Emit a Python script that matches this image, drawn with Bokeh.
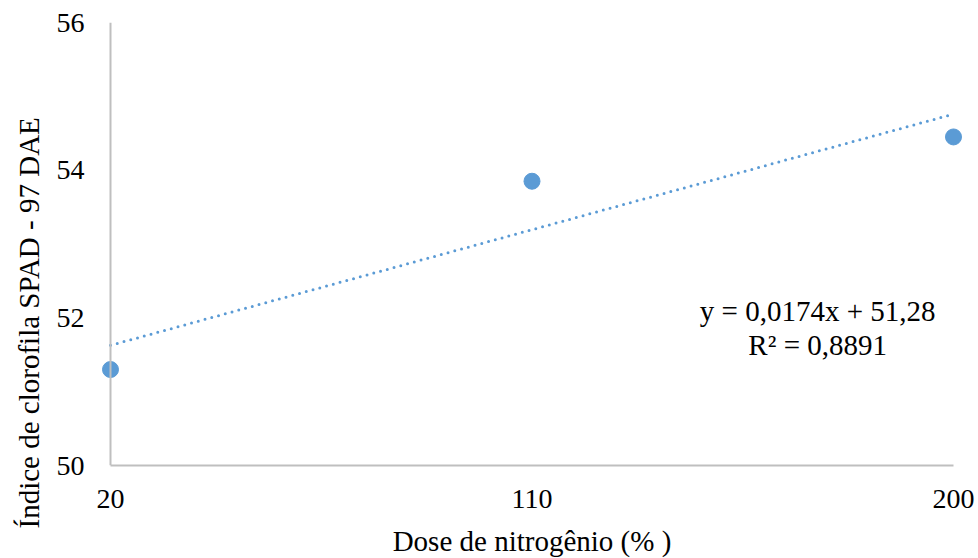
import numpy as np
from bokeh.plotting import figure
from bokeh.models import Label, FixedTicker, Range1d, Span, Title
from bokeh.embed import file_html
from bokeh.resources import INLINE

# data
doses = [20, 110, 200]
spad = [51.3, 53.85, 54.45]
slope = 0.0174
intercept = 51.28
eq_text = "y = 0,0174x + 51,28"
r2_text = "R² = 0,8891"
x_ticks = [20, 110, 200]
y_ticks = [50, 52, 54, 56]
x_title = "Dose de nitrogênio (% )"
y_title = "Índice de clorofila SPAD - 97 DAE"

FONT = "Liberation Serif"
BLUE = "#5b9bd5"
GREY = "#bfbfbf"

pad = 2.1353  # data units of padding so end markers are not clipped
p = figure(frame_width=863, frame_height=443, width=978, height=558,
           min_border_left=100, min_border_right=15, min_border_top=22, min_border_bottom=93,
           x_range=Range1d(x_ticks[0] - pad, x_ticks[-1] + pad), y_range=Range1d(50, 56),
           output_backend="svg", toolbar_location=None)

p.outline_line_color = None
p.xgrid.grid_line_color = None
p.ygrid.grid_line_color = None
p.background_fill_color = "white"
p.border_fill_color = "white"

for ax in (p.xaxis[0], p.yaxis[0]):
    ax.axis_line_color = GREY
    ax.axis_line_width = 2
    ax.major_tick_line_color = None
    ax.minor_tick_line_color = None
    ax.major_label_text_font = FONT
    ax.major_label_text_font_size = "28px"
    ax.major_label_text_color = "black"

p.yaxis.axis_line_color = None
p.xaxis.bounds = (x_ticks[0], x_ticks[-1])
p.add_layout(Span(location=x_ticks[0], dimension="height", line_color=GREY, line_width=2))

p.xaxis.ticker = FixedTicker(ticks=x_ticks)
p.yaxis.ticker = FixedTicker(ticks=y_ticks)
p.xaxis.major_label_standoff = 18
p.yaxis.major_label_standoff = 10

p.xaxis.axis_label = x_title
p.xaxis.axis_label_text_font = FONT
p.xaxis.axis_label_text_font_style = "normal"
p.xaxis.axis_label_text_font_size = "29px"
p.xaxis.axis_label_text_color = "black"
p.xaxis.axis_label_standoff = 14

p.add_layout(Title(text=y_title, align="left", offset=-63, text_font=FONT,
                   text_font_style="normal", text_font_size="29px", text_color="black",
                   standoff=18), "left")

# trend line
tx = np.array([x_ticks[0], x_ticks[-1]], dtype=float)
ty = slope * tx + intercept
p.line(tx, ty, line_color=BLUE, line_width=3, line_dash="0 7", line_cap="round")

p.scatter(doses, spad, size=16, fill_color=BLUE, line_color=BLUE, marker="circle")

p.add_layout(Label(x=171, y=52.09, text=eq_text, text_align="center", text_baseline="alphabetic",
                   text_font=FONT, text_font_size="29px", text_color="black"))
p.add_layout(Label(x=171, y=51.63, text=r2_text, text_align="center", text_baseline="alphabetic",
                   text_font=FONT, text_font_size="29px", text_color="black"))

open("out.html", "w").write(file_html(p, INLINE))
